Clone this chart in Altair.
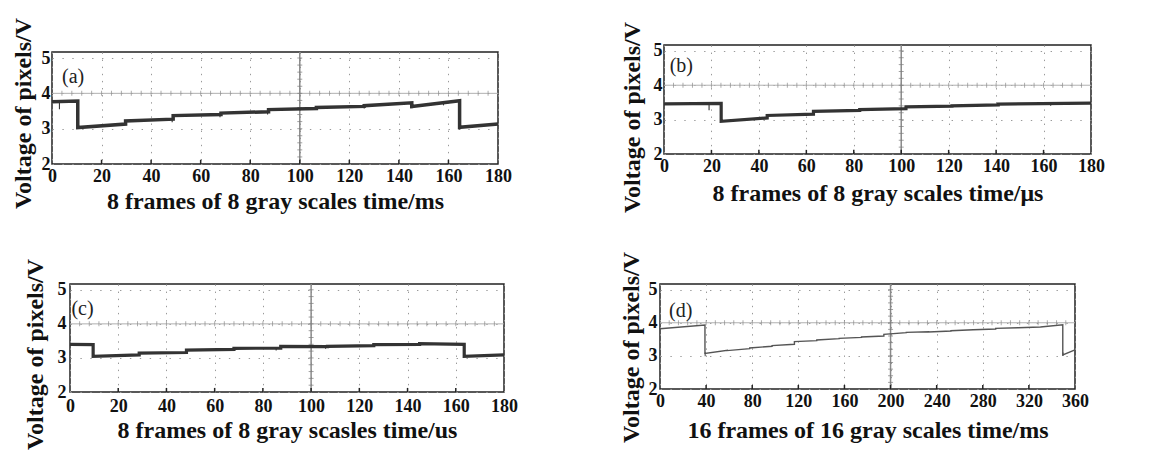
import altair as alt
import numpy as np
import pandas as pd

FONT = "Liberation Serif"
Y_TICKS = [2, 3, 4, 5]
Y_TOP = 5.17
Y_TITLE = "Voltage of pixels/V"

# ---------- panel (a) ----------
A_T = [0, 10.4, 29.7, 48.9, 68.2, 87.4, 106.7, 126.0, 145.2, 164.5, 180]
A_START = [3.76, 3.03, 3.22, 3.37, 3.44, 3.54, 3.60, 3.65, 3.63, 3.04]
A_END = [3.78, 3.13, 3.27, 3.40, 3.48, 3.57, 3.63, 3.73, 3.79, 3.13]
A_SPIKE_T = [3.0, 48.5, 67.8, 87.0, 126.0, 145.3, 158.0, 164.6]
A_SPIKE_HI = [3.76, 3.27, 3.40, 3.48, 3.65, 3.73, 3.76, 3.05]
A_SPIKE_LO = [3.55, 3.18, 3.32, 3.40, 3.57, 3.58, 3.66, 2.97]
A_XTICKS = [0, 20, 40, 60, 80, 100, 120, 140, 160, 180]

# ---------- panel (b) ----------
B_T = [0, 24.1, 43.5, 63.0, 82.5, 102.0, 121.4, 140.9, 180]
B_START = [3.46, 2.95, 3.12, 3.24, 3.29, 3.37, 3.40, 3.45]
B_END = [3.47, 3.05, 3.16, 3.27, 3.32, 3.39, 3.43, 3.48]
B_SPIKE_T = [19.0, 82.5, 163.0]
B_SPIKE_HI = [3.46, 3.27, 3.47]
B_SPIKE_LO = [3.27, 3.22, 3.40]
B_XTICKS = [0, 20, 40, 60, 80, 100, 120, 140, 160, 180]

# ---------- panel (c) ----------
C_T = [0, 9.6, 28.7, 48.3, 68.0, 87.4, 106.8, 126.0, 145.0, 163.5, 180]
C_START = [3.40, 3.05, 3.14, 3.23, 3.28, 3.34, 3.34, 3.39, 3.42, 3.05]
C_END = [3.39, 3.09, 3.16, 3.25, 3.29, 3.33, 3.36, 3.40, 3.40, 3.09]
C_SPIKE_T = [85.5, 106.0, 141.5]
C_SPIKE_HI = [3.29, 3.33, 3.40]
C_SPIKE_LO = [3.22, 3.27, 3.35]
C_XTICKS = [0, 20, 40, 60, 80, 100, 120, 140, 160, 180]

# ---------- panel (d) ----------
D_T = [0, 39.0, 58.4, 77.8, 97.2, 116.6, 136.0, 155.4, 174.8, 194.2, 213.6,
       233.0, 252.4, 271.8, 291.2, 310.6, 330.0, 349.4, 360]
D_START = [3.82, 3.07, 3.16, 3.24, 3.31, 3.43, 3.48, 3.53, 3.57, 3.65, 3.71,
           3.72, 3.76, 3.79, 3.83, 3.85, 3.87, 3.03]
D_END = [3.93, 3.17, 3.22, 3.29, 3.35, 3.46, 3.52, 3.56, 3.60, 3.70, 3.73,
         3.75, 3.79, 3.81, 3.85, 3.87, 3.94, 3.18]
D_SPIKE_T = [39.2, 349.6]
D_SPIKE_HI = [3.10, 3.10]
D_SPIKE_LO = [2.99, 3.00]
D_XTICKS = [0, 40, 80, 120, 160, 200, 240, 280, 320, 360]


def trace_df(t, s, e):
    xs, vs = [], []
    for i in range(len(s)):
        xs += [t[i], t[i + 1]]
        vs += [s[i], e[i]]
    return pd.DataFrame({"t": xs, "v": vs, "order": list(range(len(xs)))})


def panel(letter, t, s, e, sp_t, sp_hi, sp_lo, xticks, xtitle, w, h,
          color, sw, y_lp, y_tp, y_ty, x_lp, x_tp, lab_x, lab_y):
    xmax = xticks[-1]
    center = 100 if xmax == 180 else 200
    minor = xmax / 45.0
    xs = alt.Scale(domain=[0, xmax], nice=False, zero=False)
    ys = alt.Scale(domain=[2, Y_TOP], nice=False, zero=False)
    xax = alt.Axis(values=xticks, title=xtitle, grid=True, gridColor="#9a9a9a",
                   gridDash=[1.4, 5.7], gridWidth=1, ticks=False, tickSize=0,
                   domain=False, labelFont=FONT, labelFontSize=18,
                   labelFontWeight="bold", labelColor="#111", labelPadding=x_lp,
                   labelFlush=False, labelOverlap=False, titleFont=FONT,
                   titleFontSize=24, titleFontWeight="bold", titleColor="#111",
                   titlePadding=x_tp)
    yax = alt.Axis(values=Y_TICKS, title=Y_TITLE, grid=True, gridColor="#9a9a9a",
                   gridDash=[1.4, 8.5], gridWidth=1, ticks=False, tickSize=0,
                   domain=False, labelFont=FONT, labelFontSize=18,
                   labelFontWeight="bold", labelColor="#111", labelPadding=y_lp,
                   labelFlush=False, labelOverlap=False, titleFont=FONT,
                   titleFontSize=24, titleFontWeight="bold", titleColor="#111",
                   titlePadding=y_tp, titleY=y_ty)
    X = alt.X("t:Q", scale=xs, axis=xax)
    Y = alt.Y("v:Q", scale=ys, axis=yax)

    hline = alt.Chart(pd.DataFrame({"v": [4]})).mark_rule(
        color="#b0b0b0", strokeWidth=1).encode(y=Y)
    vline = alt.Chart(pd.DataFrame({"t": [center]})).mark_rule(
        color="#8a8a8a", strokeWidth=1.5).encode(x=X)
    htick_df = pd.DataFrame({"t": [minor * k for k in range(1, 45)], "v": 4})
    hticks = alt.Chart(htick_df).mark_tick(
        orient="vertical", size=5, thickness=1, color="#8a8a8a").encode(x=X, y=Y)
    vtick_df = pd.DataFrame({"t": center,
                             "v": [round(2 + 0.2 * k, 2) for k in range(1, 16)]})
    vticks = alt.Chart(vtick_df).mark_tick(
        orient="horizontal", size=5, thickness=1, color="#7a7a7a").encode(x=X, y=Y)
    inner_df = pd.DataFrame({"t": xticks[1:-1], "v": 2.0, "v2": 2.12})
    inner = alt.Chart(inner_df).mark_rule(color="#222", strokeWidth=1.5).encode(
        x=X, y=Y, y2="v2:Q")
    line = alt.Chart(trace_df(t, s, e)).mark_line(
        color=color, strokeWidth=sw).encode(x=X, y=Y, order="order:Q")
    spikes = alt.Chart(pd.DataFrame({"t": sp_t, "v": sp_hi, "v2": sp_lo})).mark_rule(
        color=color, strokeWidth=1.1).encode(x=X, y=Y, y2="v2:Q")
    lab = alt.Chart(pd.DataFrame({"t": [lab_x], "v": [lab_y], "lab": [f"({letter})"]})).mark_text(
        font=FONT, fontSize=20, color="#222", align="center", baseline="middle").encode(
        x=X, y=Y, text="lab:N")
    return alt.layer(hline, vline, hticks, vticks, inner, line, spikes, lab).properties(
        width=w, height=h)


def spacer(w, h):
    return alt.Chart(pd.DataFrame({"t": [0]})).mark_point(size=0, opacity=0).encode(
        x=alt.X("t:Q", axis=None), y=alt.Y("t:Q", axis=None)).properties(
        width=w, height=h, view=alt.ViewBackground(stroke="transparent"))


A = panel("a", A_T, A_START, A_END, A_SPIKE_T, A_SPIKE_HI, A_SPIKE_LO, A_XTICKS,
          "8 frames of 8 gray scales time/ms", 446, 112, "#333333", 3.5,
          2, 6, 61, 3, 4, 8.5, 4.45)
B = panel("b", B_T, B_START, B_END, B_SPIKE_T, B_SPIKE_HI, B_SPIKE_LO, B_XTICKS,
          "8 frames of 8 gray scales time/\u03bcs", 427, 109, "#333333", 3.2,
          2, 9, 72, 3.5, 6, 7.3, 4.57)
C = panel("c", C_T, C_START, C_END, C_SPIKE_T, C_SPIKE_HI, C_SPIKE_LO, C_XTICKS,
          "8 frames of 8 gray scasles time/us", 434, 108, "#333333", 3.2,
          4, 10, 70, 5, 3, 5.2, 4.45)
D = panel("d", D_T, D_START, D_END, D_SPIKE_T, D_SPIKE_HI, D_SPIKE_LO, D_XTICKS,
          "16 frames of 16 gray scales time/ms", 415, 105, "#555555", 1.4,
          3, 5, 63, 3.5, 8, 18, 4.35)

inner_a = alt.vconcat(spacer(1, 7), A, spacing=0, bounds="flush")
row1 = alt.hconcat(inner_a, B, spacing=106)
inner_c = alt.hconcat(spacer(18, 1), C, spacing=0, bounds="flush")
row2 = alt.hconcat(inner_c, D, spacing=99)
chart = alt.vconcat(row1, row2, spacing=36).properties(
    padding={"left": 2, "top": 8, "right": 5, "bottom": 5},
    background="white",
).configure_view(stroke="#222222", strokeWidth=1.5)

chart.save("out.html", embed_options={"renderer": "svg", "actions": False})
